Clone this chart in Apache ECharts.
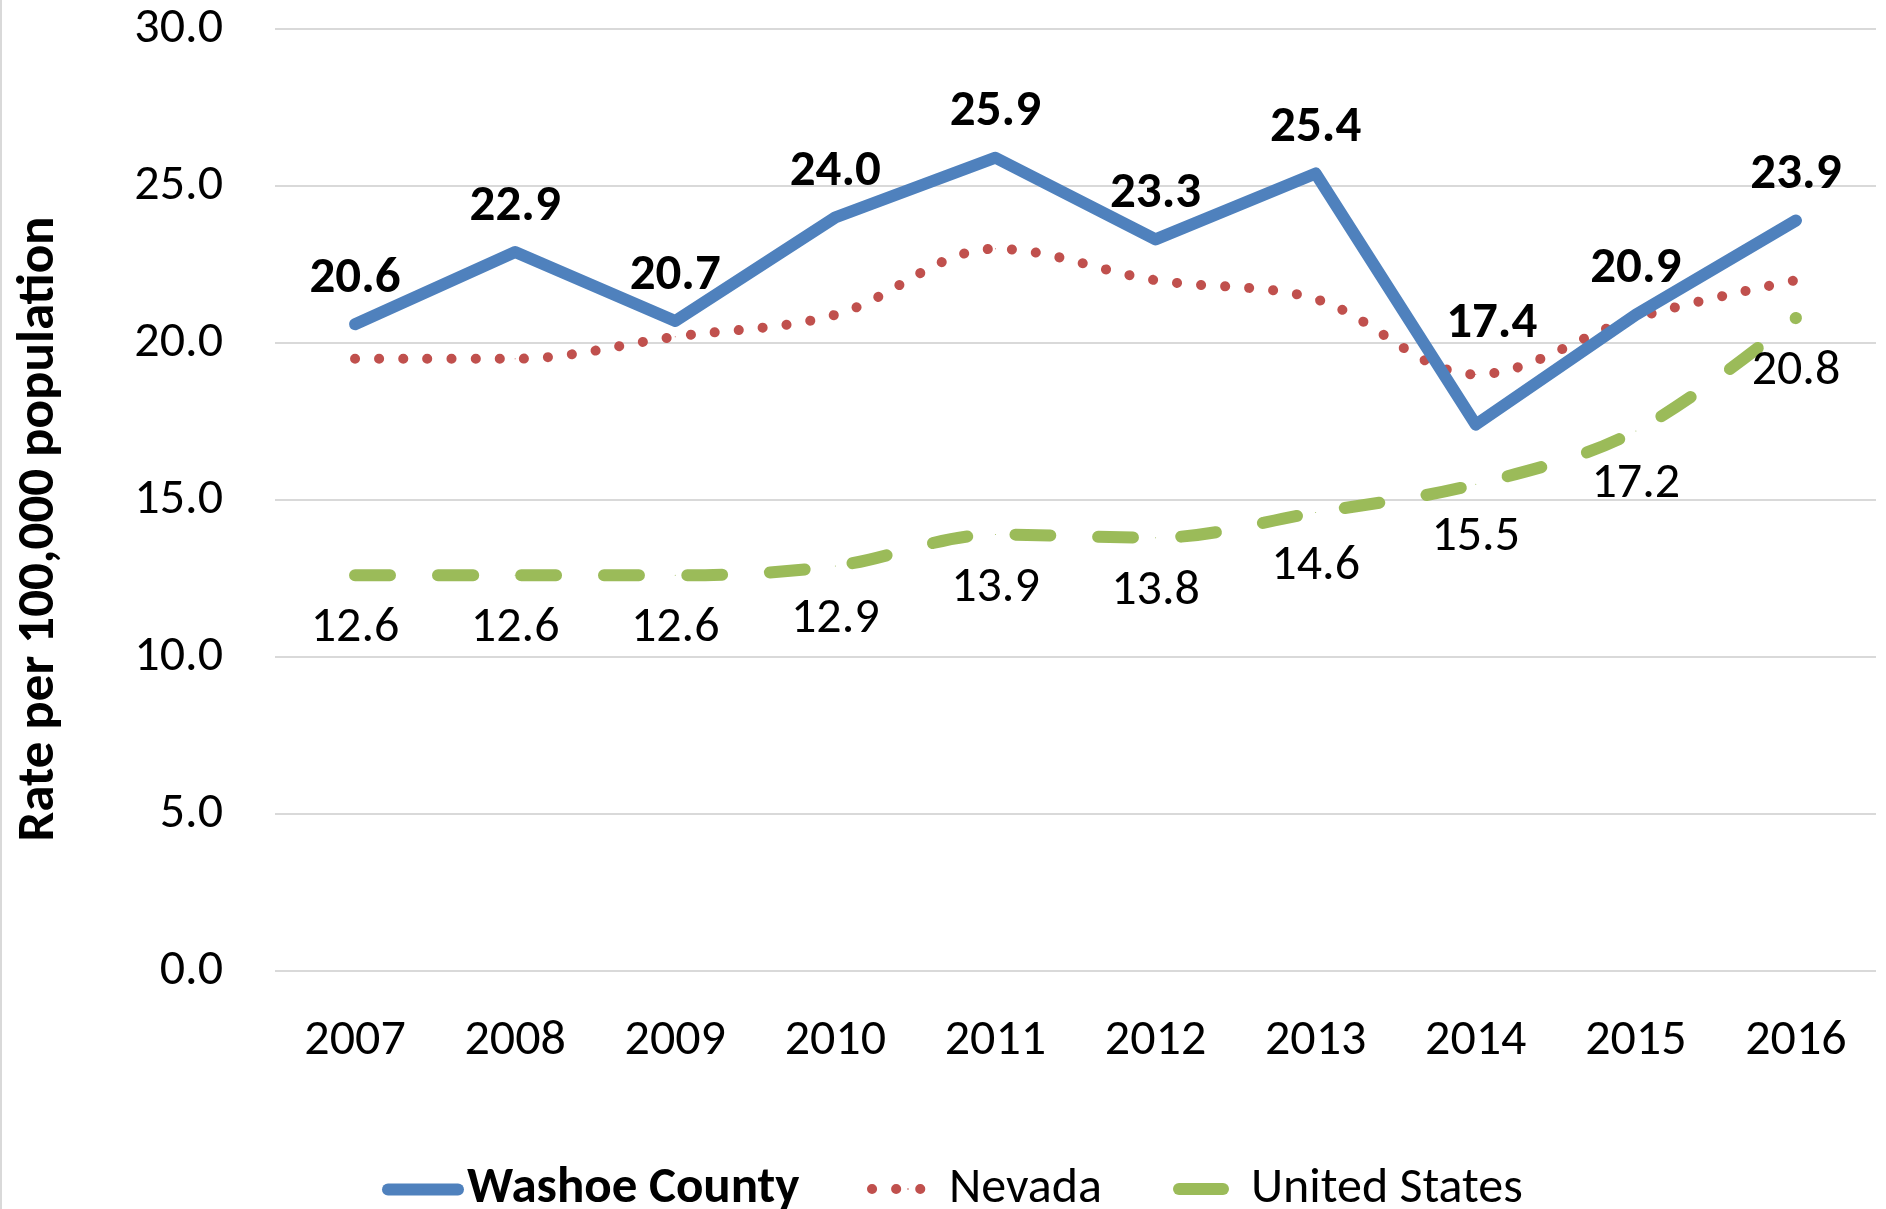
<!DOCTYPE html>
<html>
<head>
<meta charset="utf-8">
<script src="https://cdn.jsdelivr.net/npm/echarts@6/dist/echarts.min.js"></script>
<style>
html,body{margin:0;padding:0;background:#fff;}
#chart{width:1886px;height:1209px;}
</style>
</head>
<body>
<div id="chart"></div>
<script>
const years = ['2007','2008','2009','2010','2011','2012','2013','2014','2015','2016'];
const washoe = [20.6, 22.9, 20.7, 24.0, 25.9, 23.3, 25.4, 17.4, 20.9, 23.9];
const nevada = [19.5, 19.5, 20.2, 20.9, 23.0, 22.0, 21.4, 19.0, 20.8, 22.0];
const unitedStates = [12.6, 12.6, 12.6, 12.9, 13.9, 13.8, 14.6, 15.5, 17.2, 20.8];
const seriesNames = ['Washoe County', 'Nevada', 'United States'];
const yTicks = [0, 5, 10, 15, 20, 25, 30];
const yTitle = 'Rate per 100,000 population';

const FONT = 'Carlito, Lato, "Open Sans", sans-serif';
const FS = 50;
const FS_BOLD = 51;
const C_WASHOE = '#4F81BD', C_NEVADA = '#C0504D', C_US = '#9BBB59';

const washoeLine = {color: C_WASHOE, width: 12, type: 'solid', cap: 'round', join: 'round'};
const nevadaLine = {color: C_NEVADA, width: 10, type: [0.1, 24], cap: 'round', join: 'round'};
const usLine = {color: C_US, width: 12, type: [35, 48], cap: 'round', join: 'round'};

// the 2014 Washoe label was nudged up/right in the original to clear the lines
const washoeData = washoe.map((v, i) => i === 7 ? {value: v, label: {offset: [16, -55]}} : v);

function legendOf(name, left, itemWidth, lineStyle, extraText) {
  return {
    left: left, top: 1164, padding: 0, itemWidth: itemWidth, itemHeight: 2, selectedMode: false,
    textStyle: Object.assign({color: '#000', fontFamily: FONT, fontSize: FS}, extraText || {}),
    data: [{name: name, lineStyle: lineStyle}]
  };
}

const chart = echarts.init(document.getElementById('chart'), null, {renderer: 'canvas'});
chart.setOption({
  animation: false,
  backgroundColor: '#ffffff',
  grid: {left: 275, right: 10, top: 29, bottom: 238, containLabel: false},
  xAxis: {
    type: 'category',
    data: years,
    boundaryGap: true,
    axisLine: {show: false},
    axisTick: {show: false},
    axisLabel: {color: '#000', fontFamily: FONT, fontSize: FS, margin: 45}
  },
  yAxis: {
    type: 'value',
    min: yTicks[0],
    max: yTicks[yTicks.length - 1],
    interval: yTicks[1] - yTicks[0],
    axisLine: {show: false},
    axisTick: {show: false},
    axisLabel: {color: '#000', fontFamily: FONT, fontSize: FS, margin: 52,
      formatter: v => v.toFixed(1)},
    splitLine: {lineStyle: {color: '#d9d9d9', width: 2}}
  },
  legend: [
    legendOf(seriesNames[0], 382, 70, washoeLine, {fontWeight: 'bold', fontSize: FS_BOLD, padding: [0, 0, 0, 4]}),
    legendOf(seriesNames[1], 867, 72, nevadaLine),
    legendOf(seriesNames[2], 1173, 67, Object.assign({}, usLine, {type: [44, 48]}))
  ],
  graphic: [
    {type: 'rect', left: 0, top: 0, shape: {width: 2, height: 1209}, style: {fill: '#d9d9d9'}, silent: true},
    {type: 'text', x: 40, y: 529, rotation: Math.PI / 2,
      style: {text: yTitle, font: 'bold 53px ' + FONT, fill: '#000', textAlign: 'center', textVerticalAlign: 'middle'}}
  ],
  series: [
    {
      name: seriesNames[2], type: 'line', data: unitedStates,
      symbol: 'circle', symbolSize: 1, showSymbol: true, smooth: 0.35,
      lineStyle: usLine, itemStyle: {color: C_US}, z: 2,
      label: {show: true, position: 'bottom', distance: 28, color: '#000', fontFamily: FONT, fontSize: FS,
        formatter: p => p.value.toFixed(1)}
    },
    {
      name: seriesNames[1], type: 'line', data: nevada,
      symbol: 'circle', symbolSize: 1, showSymbol: true, smooth: 0.35,
      lineStyle: nevadaLine, itemStyle: {color: C_NEVADA}, z: 3,
      label: {show: false}
    },
    {
      name: seriesNames[0], type: 'line', data: washoeData,
      symbol: 'circle', symbolSize: 1, showSymbol: true, smooth: false,
      lineStyle: washoeLine, itemStyle: {color: C_WASHOE}, z: 4,
      label: {show: true, position: 'top', distance: 19, color: '#000', fontFamily: FONT, fontSize: FS_BOLD, fontWeight: 'bold',
        formatter: p => p.value.toFixed(1)}
    }
  ]
});
</script>
</body>
</html>
